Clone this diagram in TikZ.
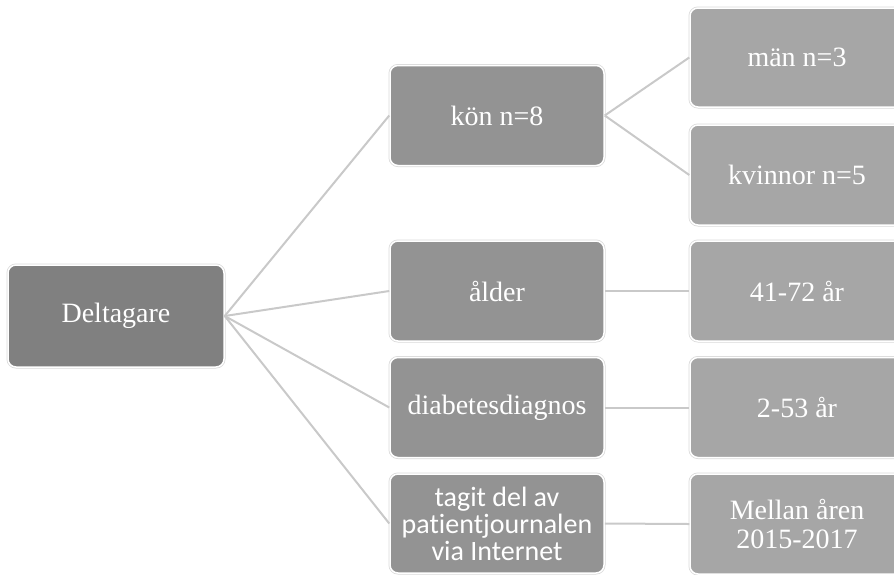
\documentclass[tikz,border=0pt]{standalone}
\usepackage{fontspec}
\setmainfont{Liberation Serif}
\newfontfamily\calfont[Ligatures=NoCommon]{Carlito}
\definecolor{rotgra}{HTML}{808080}
\definecolor{mellangra}{HTML}{939393}
\definecolor{ljusgra}{HTML}{A6A6A6}
\definecolor{linjegra}{HTML}{C9C9C9}
\begin{document}
\begin{tikzpicture}[x=1pt,y=-1pt,
	ruta/.style={rounded corners=8pt,draw=white,line width=1.5pt,text=white,
		minimum width=214pt,minimum height=100pt,inner sep=0pt,align=center,
		font=\fontsize{28}{30}\selectfont,
		preaction={draw=black!15,line width=3pt}},
	rot/.style={ruta,fill=rotgra,minimum width=216pt,minimum height=102pt},
	gren/.style={ruta,fill=mellangra},
	blad/.style={ruta,fill=ljusgra},
	linje/.style={draw=linjegra,line width=2pt}]
	\clip (0,0) rectangle (894,574);
	\useasboundingbox (0,0) rectangle (894,574);
	%Rot
	\node[rot] (del) at (116,316) {Deltagare};
	%Nivå 2
	\node[gren] (kon) at (497,115.5) {kön n=8};
	\node[gren] (alder) at (497,291) {ålder};
	\node[gren] (diab) at (497,407.5) {diabetesdiagnos};
	\node[gren,minimum height=99pt,font=\calfont\fontsize{28}{27}\selectfont] (tagit) at (497,523.5)
		{tagit del av\\patientjournalen\\via Internet};
	%Nivå 3
	\node[blad,minimum height=99pt] (man) at (797,57.5) {män n=3};
	\node[blad] (kvinnor) at (797,175) {kvinnor n=5};
	\node[blad] (ar) at (797,291) {41-72 år};
	\node[blad] (diagar) at (797,407.5) {2-53 år};
	\node[blad,font=\fontsize{28}{29}\selectfont] (mellan) at (797,524) {Mellan åren\\2015-2017};
	%Linjer 1
	\draw[linje] (del.east) -- (kon.west);
	\draw[linje] (del.east) -- (alder.west);
	\draw[linje] (del.east) -- (diab.west);
	\draw[linje] (del.east) -- (tagit.west);
	%Linjer 2
	\draw[linje] (kon.east) -- (man.west);
	\draw[linje] (kon.east) -- (kvinnor.west);
	\draw[linje] (alder.east) -- (ar.west);
	\draw[linje] (diab.east) -- (diagar.west);
	\draw[linje] (tagit.east) -- (mellan.west);
\end{tikzpicture}
\end{document}
